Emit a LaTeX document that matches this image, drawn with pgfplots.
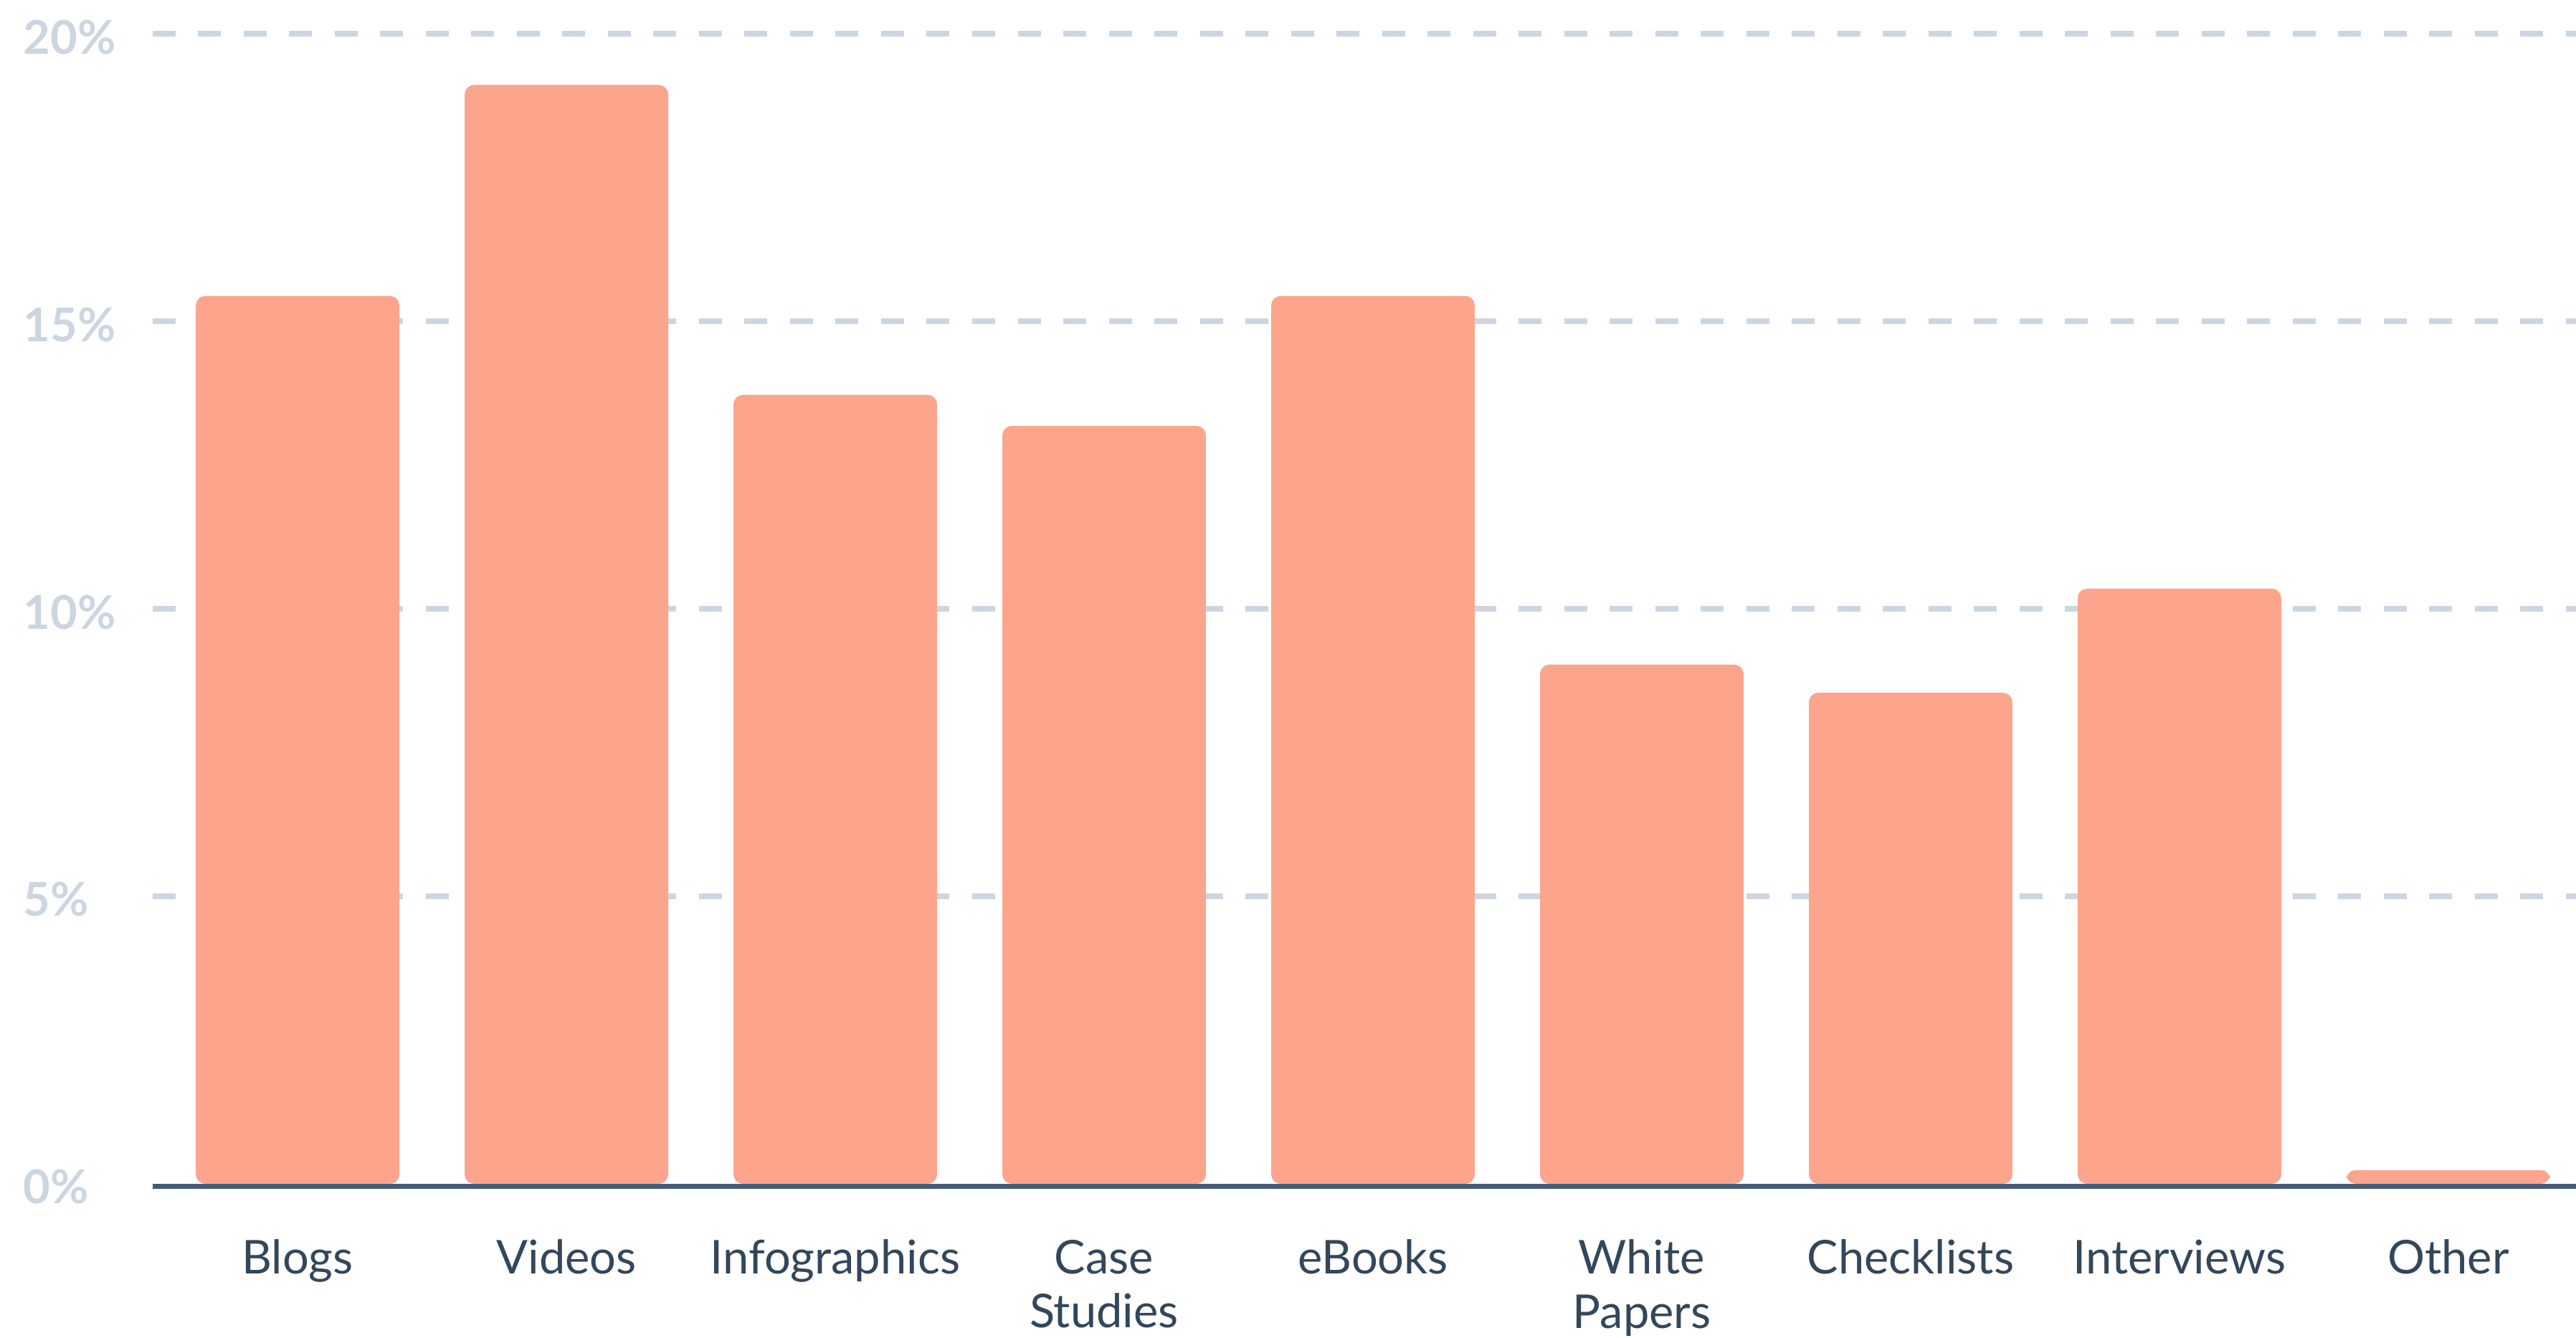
\documentclass[border=0pt]{standalone}
\usepackage{fontspec}
\setmainfont{Lato}
\usepackage{pgfplots}
\pgfplotsset{compat=1.18}
\definecolor{barc}{HTML}{FCA58C}
\definecolor{darktext}{HTML}{33475B}
\definecolor{basec}{HTML}{425B76}
\definecolor{gridc}{HTML}{CBD6E2}
\begin{document}
\begin{tikzpicture}
\useasboundingbox (-42.6pt,-42.8pt) rectangle (676pt,330.2pt);
\begin{axis}[
  name=ax,
  at={(0,0)}, anchor=south west,
  scale only axis,
  width=676pt, height=328.8pt,
  xmin=-0.539, xmax=8.475,
  ymin=0, ymax=20.5,
  axis x line*=bottom, axis y line*=left,
  axis line style={draw=none},
  major tick length=0pt,
  tick style={draw=none},
  xtick={0,1,2,3,4,5,6,7,8},
  xticklabels={Blogs,Videos,Infographics,{Case\\Studies},eBooks,{White\\Papers},Checklists,Interviews,Other},
  xticklabel style={anchor=north, inner sep=0pt, yshift=-15.4pt, align=center,
    font=\fontsize{13}{15.1}\selectfont, text=darktext},
  ytick={5,10,15,20},
  yticklabels={5\%,10\%,15\%,20\%},
  extra y ticks={0},
  extra y tick labels={0\%},
  extra y tick style={grid=none},
  yticklabel style={anchor=west, inner sep=0pt, xshift=-36.2pt, yshift=-0.9pt,
    font=\fontsize{13}{15}\selectfont\bfseries, text=gridc},
  ymajorgrids,
  grid style={gridc, line width=1.6pt, dash pattern=on 6.4pt off 6.3pt},
  clip=false,
]
\addplot[ybar, bar width=0.757, fill=barc, draw=none, rounded corners=2.6pt]
  coordinates {(0,15.44) (1,19.11) (2,13.72) (3,13.18) (4,15.44) (5,9.03) (6,8.54) (7,10.35) (8,0.24)};
\end{axis}
\fill[basec] (ax.south west) rectangle ([yshift=-1.4pt]ax.south east);
\end{tikzpicture}
\end{document}
